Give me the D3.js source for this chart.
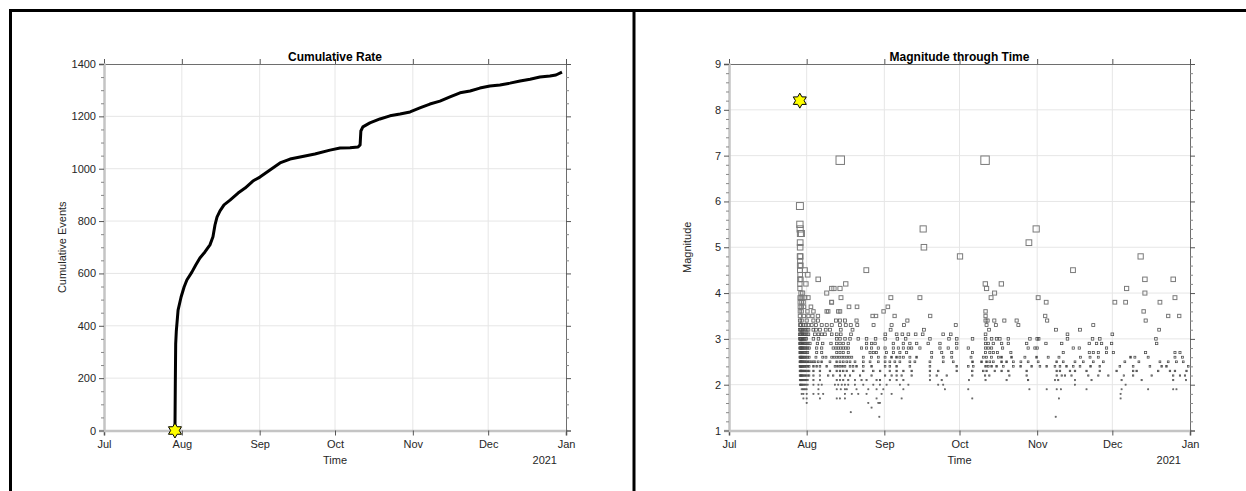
<!DOCTYPE html>
<html>
<head>
<meta charset="utf-8">
<script src="https://cdn.jsdelivr.net/npm/d3@7"></script>
<style>
body { margin: 0; background: #fff; }
text { font-family: "Liberation Sans", Arial, sans-serif; }
</style>
</head>
<body>
<div id="chart"></div>
<script>
// days are counted from 2020-07-01 00:00 UTC
var monthTicks = ["2020-07-01", "2020-08-01", "2020-09-01", "2020-10-01", "2020-11-01", "2020-12-01", "2021-01-01"];
var monthLabels = ["Jul", "Aug", "Sep", "Oct", "Nov", "Dec", "Jan"];
var yearLabel = "2021";

var mainshockDay = 28.26;
var mainshockMag = 8.2;

// cumulative curve
var cumDays = [28.26, 28.4, 28.55, 28.8, 29.5, 30.7, 31.9, 33.0, 35.0, 36.6, 38.2, 40.2, 42.2, 43.4, 44.2, 45.0, 46.2, 47.8, 50.2, 53.4, 56.2, 59.3, 62.1, 66.1, 70.1, 74.1, 78.1, 84.0, 90.0, 94.0, 98.0, 101.2, 102.0, 102.3, 103.1, 105.9, 109.9, 113.9, 117.9, 121.9, 125.8, 129.8, 133.8, 137.8, 141.8, 145.8, 149.7, 153.7, 157.7, 161.7, 165.7, 169.7, 173.6, 177.6, 180.0, 182.4];
var cumCounts = [0, 180, 330, 380, 460, 510, 548, 575, 605, 633, 659, 682, 709, 740, 785, 815, 839, 862, 880, 907, 926, 953, 968, 995, 1022, 1037, 1045, 1056, 1071, 1079, 1080, 1083, 1091, 1144, 1160, 1175, 1190, 1202, 1209, 1217, 1232, 1247, 1258, 1274, 1290, 1297, 1308, 1316, 1320, 1327, 1335, 1342, 1350, 1354, 1358, 1369];

// aftershocks, grouped by magnitude
var magnitudeRows = [
  { mag: 6.9, days: [44.4, 102.2] },
  { mag: 5.9, days: [28.3] },
  { mag: 5.5, days: [28.3] },
  { mag: 5.4, days: [28.4, 77.5, 122.6] },
  { mag: 5.3, days: [28.5, 28.9] },
  { mag: 5.1, days: [28.4, 119.7] },
  { mag: 5.0, days: [28.4, 77.8] },
  { mag: 4.8, days: [28.3, 28.5, 92.2, 164.3] },
  { mag: 4.7, days: [28.4] },
  { mag: 4.6, days: [28.3, 28.6] },
  { mag: 4.5, days: [28.3, 30.3, 54.8, 137.3] },
  { mag: 4.4, days: [28.4, 31.4] },
  { mag: 4.3, days: [28.3, 28.7, 35.6, 166.0, 177.3] },
  { mag: 4.2, days: [28.3, 30.7, 46.6, 102.3, 108.7] },
  { mag: 4.1, days: [28.3, 41.0, 41.9, 44.3, 102.8, 158.7] },
  { mag: 4.0, days: [28.7, 29.4, 39.0, 106.0, 166.0] },
  { mag: 3.9, days: [28.3, 28.7, 29.2, 30.3, 31.6, 44.7, 64.6, 76.2, 104.6, 123.4, 178.0] },
  { mag: 3.8, days: [28.3, 29.0, 29.7, 40.9, 41.0, 126.6, 154.0, 158.3, 172.0] },
  { mag: 3.7, days: [28.3, 29.0, 29.9, 32.7, 47.9, 51.1, 63.4] },
  { mag: 3.6, days: [28.3, 29.0, 31.3, 33.7, 39.0, 39.6, 43.6, 44.3, 61.7, 102.4, 165.5] },
  { mag: 3.5, days: [28.3, 29.9, 31.7, 33.3, 35.5, 57.3, 58.7, 66.1, 80.3, 102.4, 126.2, 175.3, 179.7] },
  { mag: 3.4, days: [28.3, 29.0, 31.0, 33.7, 35.5, 42.7, 44.3, 46.3, 50.9, 71.2, 102.4, 103.2, 105.9, 109.9, 114.8, 127.0, 166.3] },
  { mag: 3.3, days: [28.3, 28.8, 29.7, 30.6, 31.7, 33.0, 34.7, 37.0, 39.0, 41.0, 44.3, 46.6, 48.6, 51.2, 57.7, 64.9, 69.8, 90.5, 102.8, 106.5, 115.5, 145.4] },
  { mag: 3.2, days: [28.3, 28.7, 29.0, 29.6, 30.3, 31.0, 31.7, 33.7, 34.7, 36.3, 38.6, 40.3, 44.6, 49.3, 64.5, 77.8, 103.8, 130.5, 140.1, 171.7] },
  { mag: 3.1, days: [28.3, 28.6, 28.9, 29.3, 29.7, 30.3, 31.0, 31.7, 34.3, 35.7, 37.0, 38.3, 41.0, 43.0, 44.6, 48.7, 62.4, 66.9, 69.2, 71.6, 74.5, 77.3, 85.5, 88.5, 102.4, 135.1, 153.0] },
  { mag: 3.0, days: [28.3, 28.5, 28.7, 28.9, 29.2, 29.5, 29.9, 30.3, 30.8, 33.7, 35.7, 43.0, 44.3, 46.3, 48.3, 51.6, 54.9, 58.5, 62.3, 67.2, 70.5, 80.2, 87.8, 90.9, 97.2, 102.4, 104.8, 106.8, 108.1, 111.5, 120.1, 123.0, 123.6, 135.1, 145.1, 148.0, 170.4] },
  { mag: 2.9, days: [28.3, 28.5, 28.7, 28.9, 29.2, 29.5, 29.9, 30.3, 30.8, 31.5, 32.3, 35.3, 37.4, 40.7, 43.0, 44.3, 45.6, 47.6, 54.9, 56.9, 58.3, 65.6, 69.6, 72.2, 74.9, 79.5, 84.2, 90.9, 102.4, 103.5, 105.5, 108.8, 111.5, 118.8, 126.5, 132.8, 143.8, 146.7, 148.7, 152.7, 170.7] },
  { mag: 2.8, days: [28.3, 28.5, 28.7, 28.9, 29.2, 29.5, 29.9, 30.3, 30.8, 31.4, 32.0, 35.0, 37.0, 41.6, 42.7, 43.6, 44.6, 45.6, 46.6, 47.6, 52.9, 54.9, 56.9, 59.6, 62.3, 65.6, 67.6, 69.6, 71.6, 72.9, 76.2, 84.2, 87.5, 90.9, 95.5, 102.4, 103.5, 104.8, 109.2, 119.4, 122.1, 123.0, 137.4, 139.8, 150.7] },
  { mag: 2.7, days: [28.3, 28.5, 28.7, 28.9, 29.2, 29.5, 29.9, 30.3, 30.8, 31.4, 35.0, 37.0, 43.0, 44.3, 45.6, 47.6, 56.3, 57.6, 58.9, 62.9, 65.6, 68.2, 70.9, 80.9, 84.9, 88.9, 97.2, 102.4, 104.1, 105.5, 107.2, 112.5, 133.4, 143.8, 145.4, 147.4, 150.7, 153.4, 166.3, 178.0, 180.0] },
  { mag: 2.6, days: [28.3, 28.5, 28.7, 28.9, 29.2, 29.5, 29.9, 30.3, 30.8, 31.4, 32.0, 34.7, 37.4, 38.7, 41.0, 42.0, 43.0, 44.0, 45.0, 46.0, 47.0, 48.0, 49.0, 53.6, 56.9, 59.6, 62.3, 64.9, 66.9, 68.2, 69.6, 72.2, 74.9, 80.9, 85.5, 88.9, 96.6, 101.5, 102.8, 104.8, 107.5, 108.8, 112.8, 118.1, 122.8, 127.4, 131.7, 140.3, 144.1, 147.4, 160.3, 162.0, 167.3, 178.0, 181.0] },
  { mag: 2.5, days: [28.3, 28.5, 28.7, 28.9, 29.2, 29.5, 29.9, 30.3, 30.8, 31.4, 32.0, 32.7, 33.6, 34.3, 35.6, 37.0, 40.3, 43.0, 44.3, 45.6, 47.0, 48.3, 50.3, 53.6, 56.3, 59.6, 62.3, 64.2, 66.2, 68.2, 72.2, 74.2, 80.2, 85.5, 89.5, 97.2, 100.8, 102.8, 104.1, 105.5, 108.8, 110.8, 113.5, 116.5, 119.4, 123.4, 130.8, 133.4, 138.1, 141.4, 145.4, 149.4, 158.0, 163.6, 172.0, 175.3, 178.6, 181.3] },
  { mag: 2.4, days: [28.3, 28.5, 28.7, 28.9, 29.2, 29.5, 29.9, 30.3, 30.8, 31.4, 32.0, 33.7, 35.0, 36.3, 39.0, 42.3, 43.3, 44.3, 45.3, 46.3, 48.3, 49.5, 50.9, 53.6, 56.9, 62.3, 64.2, 66.9, 72.2, 80.2, 90.9, 95.5, 97.5, 102.4, 103.5, 104.8, 106.8, 109.5, 113.5, 116.4, 120.8, 124.1, 126.8, 130.1, 132.1, 134.7, 137.4, 140.1, 144.3, 148.0, 156.0, 161.3, 168.0, 172.7, 174.6, 183.3] },
  { mag: 2.3, days: [28.3, 28.5, 28.7, 28.9, 29.2, 29.5, 29.9, 30.3, 30.8, 31.4, 32.0, 33.7, 36.3, 40.3, 43.0, 44.3, 45.6, 47.0, 49.6, 53.6, 57.6, 60.3, 64.2, 66.9, 69.6, 72.9, 80.2, 83.5, 90.9, 97.1, 101.5, 102.8, 106.1, 108.8, 111.5, 118.8, 130.8, 132.1, 136.1, 138.1, 142.7, 148.0, 154.7, 161.3, 162.7, 171.3, 176.0, 178.0, 182.6] },
  { mag: 2.2, days: [28.3, 28.5, 28.7, 28.9, 29.2, 29.5, 29.9, 30.3, 30.8, 31.4, 32.0, 33.7, 36.3, 39.6, 41.6, 44.3, 46.3, 48.3, 52.3, 56.9, 62.3, 64.9, 66.9, 68.9, 72.9, 80.2, 82.9, 86.9, 97.1, 102.2, 103.9, 111.9, 118.8, 130.8, 132.8, 134.1, 136.7, 143.4, 147.4, 151.4, 157.6, 161.3, 168.7, 177.3, 180.0, 182.0] },
  { mag: 2.1, days: [28.3, 28.5, 28.7, 28.9, 29.2, 29.5, 29.9, 30.3, 30.8, 31.4, 33.7, 36.3, 43.0, 44.3, 45.6, 47.6, 50.3, 52.9, 54.9, 58.9, 60.3, 64.2, 66.9, 69.6, 80.2, 84.9, 95.8, 102.4, 110.8, 119.4, 130.1, 131.4, 138.1, 144.7, 156.7, 164.7, 177.3, 182.4] },
  { mag: 2.0, days: [28.3, 28.5, 28.7, 28.9, 29.2, 29.5, 29.9, 30.3, 30.8, 31.4, 33.7, 35.7, 37.0, 42.3, 43.6, 45.0, 46.3, 47.6, 50.3, 53.6, 57.6, 60.3, 62.9, 68.2, 71.6, 83.5, 85.5, 138.1, 158.3] },
  { mag: 1.9, days: [29.0, 29.5, 30.0, 30.5, 31.0, 35.7, 43.0, 44.6, 46.3, 47.0, 50.9, 55.6, 58.9, 61.6, 69.6, 86.2, 95.5, 119.9, 126.8, 130.8, 132.5, 142.7, 156.7, 167.3, 177.3, 178.6] },
  { mag: 1.8, days: [29.0, 29.7, 31.0, 33.7, 35.7, 37.6, 46.3, 49.0, 51.6, 54.9, 60.9, 64.9, 156.3] },
  { mag: 1.7, days: [29.7, 31.0, 36.3, 43.0, 44.3, 46.3, 58.9, 68.9, 97.1, 131.7, 156.3] },
  { mag: 1.6, days: [31.0, 55.6, 59.6, 60.3] },
  { mag: 1.5, days: [56.9] },
  { mag: 1.4, days: [48.6] },
  { mag: 1.3, days: [60.0, 130.4] }
];

var t0 = Date.UTC(2020, 6, 1);
function dayToDate(d) { return new Date(t0 + d * 864e5); }

var svg = d3.select("#chart").append("svg").attr("width", 1246).attr("height", 491);

var xDomain = [new Date(monthTicks[0]), new Date(monthTicks[monthTicks.length - 1])];
var tickDates = monthTicks.map(function(s) { return new Date(s); });

var labelColor = "#262626";

// draws the boxed axes of one panel
function drawFrame(g, x, y, yMajor, yMinor, title, yTitle) {
  var x0 = x.range()[0], x1 = x.range()[1];
  var yb = y.range()[0], yt = y.range()[1];

  // grid
  g.append("g").selectAll("line").data(tickDates.slice(1, -1)).enter().append("line")
    .attr("x1", function(d) { return x(d); }).attr("x2", function(d) { return x(d); })
    .attr("y1", yt).attr("y2", yb).attr("stroke", "#e6e6e6").attr("stroke-width", 1);
  g.append("g").selectAll("line").data(yMajor.slice(1, -1)).enter().append("line")
    .attr("y1", function(d) { return y(d); }).attr("y2", function(d) { return y(d); })
    .attr("x1", x0).attr("x2", x1).attr("stroke", "#e6e6e6").attr("stroke-width", 1);

  var bottom = g.append("g").attr("transform", "translate(0," + yb + ")")
    .call(d3.axisBottom(x).tickValues(tickDates).tickSize(5).tickPadding(5)
      .tickFormat(function(d, i) { return monthLabels[i]; }));
  var top = g.append("g").attr("transform", "translate(0," + yt + ")")
    .call(d3.axisTop(x).tickValues(tickDates).tickSize(5).tickFormat(""));
  var left = g.append("g").attr("transform", "translate(" + x0 + ",0)")
    .call(d3.axisLeft(y).tickValues(yMajor).tickSize(5).tickPadding(3).tickFormat(d3.format("d")));
  var leftMinor = g.append("g").attr("transform", "translate(" + x0 + ",0)")
    .call(d3.axisLeft(y).tickValues(yMinor).tickSize(3).tickFormat(""));
  var right = g.append("g").attr("transform", "translate(" + x1 + ",0)")
    .call(d3.axisRight(y).tickValues(yMajor).tickSize(5).tickFormat(""));
  var rightMinor = g.append("g").attr("transform", "translate(" + x1 + ",0)")
    .call(d3.axisRight(y).tickValues(yMinor).tickSize(3).tickFormat(""));

  [bottom, top, left, leftMinor, right, rightMinor].forEach(function(a) {
    a.selectAll("text").attr("fill", labelColor).style("font-size", "11px")
      .style("font-family", "'Liberation Sans', Arial, sans-serif");
    a.selectAll(".tick line").attr("stroke", "#555");
  });
  [leftMinor, rightMinor].forEach(function(a) { a.selectAll(".tick line").attr("stroke", "#888"); a.select(".domain").remove(); });
  [top, right].forEach(function(a) { a.select(".domain").attr("stroke", "#6e6e6e").attr("stroke-width", 1); });
  [bottom, left].forEach(function(a) { a.select(".domain").attr("stroke", "#c4c4c4").attr("stroke-width", 2.5); });

  g.append("text").attr("x", x1 - 9).attr("y", 464).attr("text-anchor", "end")
    .attr("fill", labelColor).style("font-size", "11px").text(yearLabel);
  g.append("text").attr("x", (x0 + x1) / 2).attr("y", 464).attr("text-anchor", "middle")
    .attr("fill", labelColor).style("font-size", "11px").text("Time");
  g.append("text").attr("x", (x0 + x1) / 2).attr("y", 61).attr("text-anchor", "middle")
    .attr("fill", "#000").style("font-size", "12px").style("font-weight", "bold").text(title);
  g.append("text").attr("transform", "translate(" + (x0 - 38) + "," + ((yt + yb) / 2) + ") rotate(-90)")
    .attr("text-anchor", "middle").attr("fill", labelColor).style("font-size", "11px").text(yTitle);
}

function hexagram(r) {
  var pts = [];
  for (var k = 0; k < 12; k++) {
    var a = (-90 + k * 30) * Math.PI / 180;
    var rr = k % 2 === 0 ? r : r / Math.sqrt(3);
    pts.push([rr * Math.cos(a), rr * Math.sin(a)]);
  }
  return "M" + pts.map(function(p) { return p[0].toFixed(2) + "," + p[1].toFixed(2); }).join("L") + "Z";
}

// ---- left panel: cumulative rate
var xL = d3.scaleUtc().domain(xDomain).range([104, 566]);
var yL = d3.scaleLinear().domain([0, 1400]).range([430.5, 64]);
var gL = svg.append("g");
drawFrame(gL, xL, yL, d3.range(0, 1401, 200), d3.range(0, 1401, 50).filter(function(v) { return v % 200; }),
  "Cumulative Rate", "Cumulative Events");

var cumData = cumDays.map(function(d, i) { return { date: dayToDate(d), n: cumCounts[i] }; });
gL.append("path").datum(cumData)
  .attr("d", d3.line().x(function(d) { return xL(d.date); }).y(function(d) { return yL(d.n); }))
  .attr("fill", "none").attr("stroke", "#000").attr("stroke-width", 3).attr("stroke-linejoin", "round");

gL.append("path").attr("d", hexagram(7.5))
  .attr("transform", "translate(" + xL(dayToDate(mainshockDay)) + "," + yL(0) + ")")
  .attr("fill", "#ffff00").attr("stroke", "#000").attr("stroke-width", 1);

// ---- right panel: magnitude through time
var xR = d3.scaleUtc().domain(xDomain).range([729, 1190]);
var yR = d3.scaleLinear().domain([1, 9]).range([430.5, 64]);
var gR = svg.append("g");
drawFrame(gR, xR, yR, d3.range(1, 10, 1), d3.range(1, 9.01, 0.2).filter(function(v) { return Math.abs(v - Math.round(v)) > 0.05; }),
  "Magnitude through Time", "Magnitude");

var sizeScale = d3.scaleLinear().domain([2, 7]).range([1.0, 8.6]).clamp(true);
var quakes = [];
magnitudeRows.forEach(function(row) {
  row.days.forEach(function(d) { quakes.push({ date: dayToDate(d), mag: row.mag }); });
});

gR.append("g").selectAll("rect").data(quakes).enter().append("rect")
  .attr("x", function(d) { return xR(d.date) - sizeScale(d.mag) / 2; })
  .attr("y", function(d) { return yR(d.mag) - sizeScale(d.mag) / 2; })
  .attr("width", function(d) { return sizeScale(d.mag); })
  .attr("height", function(d) { return sizeScale(d.mag); })
  .attr("fill", "none")
  .attr("stroke", function(d) { return d.mag >= 3.5 ? "#7a7a7a" : "#4a4a4a"; })
  .attr("stroke-width", function(d) { return d.mag >= 3.5 ? 1 : 0.75; });

gR.append("path").attr("d", hexagram(7.5))
  .attr("transform", "translate(" + xR(dayToDate(mainshockDay)) + "," + yR(mainshockMag) + ")")
  .attr("fill", "#ffff00").attr("stroke", "#000").attr("stroke-width", 1);

// ---- panel borders
svg.append("line").attr("x1", 9).attr("x2", 1246).attr("y1", 10.5).attr("y2", 10.5).attr("stroke", "#000").attr("stroke-width", 3);
svg.append("line").attr("x1", 10.5).attr("x2", 10.5).attr("y1", 9).attr("y2", 491).attr("stroke", "#000").attr("stroke-width", 3);
svg.append("line").attr("x1", 634).attr("x2", 634).attr("y1", 9).attr("y2", 491).attr("stroke", "#000").attr("stroke-width", 3);
</script>
</body>
</html>
